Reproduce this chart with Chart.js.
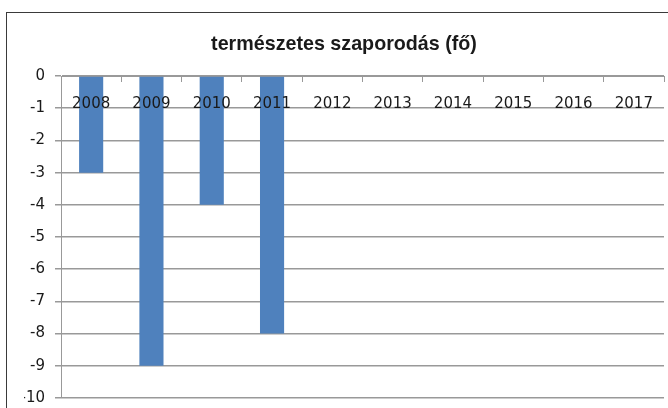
<!DOCTYPE html>
<html>
<head>
<meta charset="utf-8">
<script src="https://cdn.jsdelivr.net/npm/chart.js@4"></script>
<style>
  html, body { margin: 0; padding: 0; background: #fff; overflow: hidden; }
  #wrap { position: relative; width: 668px; height: 408px; overflow: hidden; }
  #frame { position: absolute; left: 6px; top: 12px; width: 720px; height: 460px; border: 1.5px solid #3a3a3a; }
  canvas { position: absolute; left: 0; top: 0; }
</style>
</head>
<body>
<div id="wrap">
  <div id="frame"></div>
  <canvas id="chart" width="668" height="408"></canvas>
</div>
<script>
  'use strict';

  const years = ['2008', '2009', '2010', '2011', '2012', '2013', '2014', '2015', '2016', '2017'];
  const growth = [-3, -9, -4, -8, null, null, null, null, null, null];
  const yTicks = [0, -1, -2, -3, -4, -5, -6, -7, -8, -9, -10];

  const gridColor = '#999999';
  const textColor = '#1a1a1a';

  new Chart(document.getElementById('chart'), {
    type: 'bar',
    data: {
      labels: years,
      datasets: [
        {
          label: 'természetes szaporodás (fő)',
          data: growth,
          backgroundColor: '#4f81bd',
          borderWidth: 0,
          barPercentage: 0.4,
          categoryPercentage: 1
        }
      ]
    },
    options: {
      responsive: false,
      animation: false,
      layout: {
        padding: { left: 24, right: 4, top: 0, bottom: 10 }
      },
      plugins: {
        legend: { display: false },
        tooltip: { enabled: false },
        title: {
          display: true,
          text: 'természetes szaporodás (fő)',
          color: textColor,
          font: { family: 'Liberation Sans', size: 19.7, weight: 'bold' },
          padding: { top: 33, bottom: 19.4 }
        }
      },
      scales: {
        x: {
          type: 'category',
          position: { y: 0 },
          offset: true,
          border: { display: true, color: gridColor, width: 1 },
          grid: {
            offset: true,
            drawOnChartArea: false,
            drawTicks: true,
            tickLength: 5,
            color: gridColor
          },
          ticks: {
            z: 1,
            color: textColor,
            font: { family: 'DejaVu Sans', size: 15 },
            padding: 14,
            maxRotation: 0,
            autoSkip: false
          }
        },
        y: {
          min: -10,
          max: 0,
          afterFit: function (scale) {
            scale.width = 37;
            scale.paddingTop = 0;
            scale.paddingBottom = 0;
          },
          afterBuildTicks: function (scale) {
            scale.ticks = yTicks.map(function (v) { return { value: v }; });
          },
          border: { display: true, color: gridColor, width: 1 },
          grid: {
            color: gridColor,
            lineWidth: 1.5,
            tickLength: 6
          },
          ticks: {
            color: textColor,
            font: { family: 'DejaVu Sans', size: 15 },
            padding: 10,
            stepSize: 1
          }
        }
      }
    }
  });
</script>
</body>
</html>
